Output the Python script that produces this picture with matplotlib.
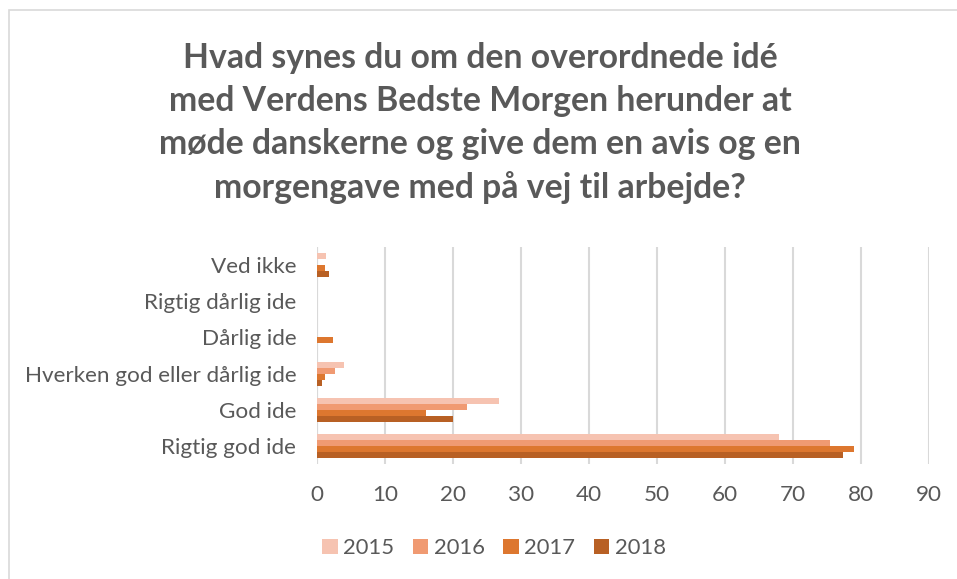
import matplotlib
matplotlib.use("Agg")
import matplotlib.pyplot as plt
from matplotlib.patches import Rectangle
import numpy as np

categories = ["Rigtig god ide", "God ide", "Hverken god eller dårlig ide",
              "Dårlig ide", "Rigtig dårlig ide", "Ved ikke"]
years = ["2015", "2016", "2017", "2018"]
v2015 = [68.0, 26.7, 3.9, 0.0, 0.0, 1.3]
v2016 = [75.4, 22.0, 2.6, 0.0, 0.0, 0.0]
v2017 = [79.0, 16.0, 1.2, 2.4, 0.0, 1.2]
v2018 = [77.4, 20.0, 0.8, 0.0, 0.0, 1.8]
series = [v2015, v2016, v2017, v2018]
colors = ["#F6C3B1", "#F09A72", "#DD772F", "#B86024"]
xticks = list(range(0, 100, 10))
title = ("Hvad synes du om den overordnede idé\nmed Verdens Bedste Morgen herunder at\n"
         "møde danskerne og give dem en avis og en\nmorgengave med på vej til arbejde?")

plt.rcParams['font.family'] = ['Lato', 'DejaVu Sans']
fig = plt.figure(figsize=(9.57, 5.79), dpi=100)
fig.patches.append(Rectangle((9/957, -0.1), 1.2, 1 - 10/579 + 0.1, transform=fig.transFigure,
                             fill=False, edgecolor="#D9D9D9", linewidth=1.2))
ax = fig.add_axes([317/957, 1 - 464/579, (929 - 317)/957, (464 - 247)/579])

y = np.arange(len(categories))
h = 1/6
offsets = [1.5*h, 0.5*h, -0.5*h, -1.5*h]
for vals, off, c, lab in zip(series, offsets, colors, years):
    ax.barh(y + off, vals, height=h, color=c, label=lab, zorder=3)

ax.set_xlim(0, 90)
ax.set_ylim(-0.5, 5.5)
ax.set_xticks(xticks)
ax.set_yticks(y)
ax.set_yticklabels(categories)
ax.grid(axis='x', color="#D9D9D9", linewidth=1.5, zorder=0)
for s in ax.spines.values():
    s.set_visible(False)
ax.axvline(0, color="#D9D9D9", linewidth=1.5, zorder=1)
ax.tick_params(axis='both', length=0, labelsize=16.2, colors="#595959")
ax.tick_params(axis='y', pad=15)
ax.tick_params(axis='x', pad=15)

fig.text(480/957, 1 - 123/579, title, ha='center', va='center', fontsize=24.3,
         fontweight='bold', color="#595959", linespacing=1.43)

leg = fig.legend(loc='center', bbox_to_anchor=(494/957, 1 - 548/579), ncol=4, frameon=False,
                 fontsize=15.8, handlelength=0.7, handleheight=0.7, handletextpad=0.25,
                 columnspacing=0.85)
for t in leg.get_texts():
    t.set_color("#595959")

fig.savefig("out.png", dpi=100)
